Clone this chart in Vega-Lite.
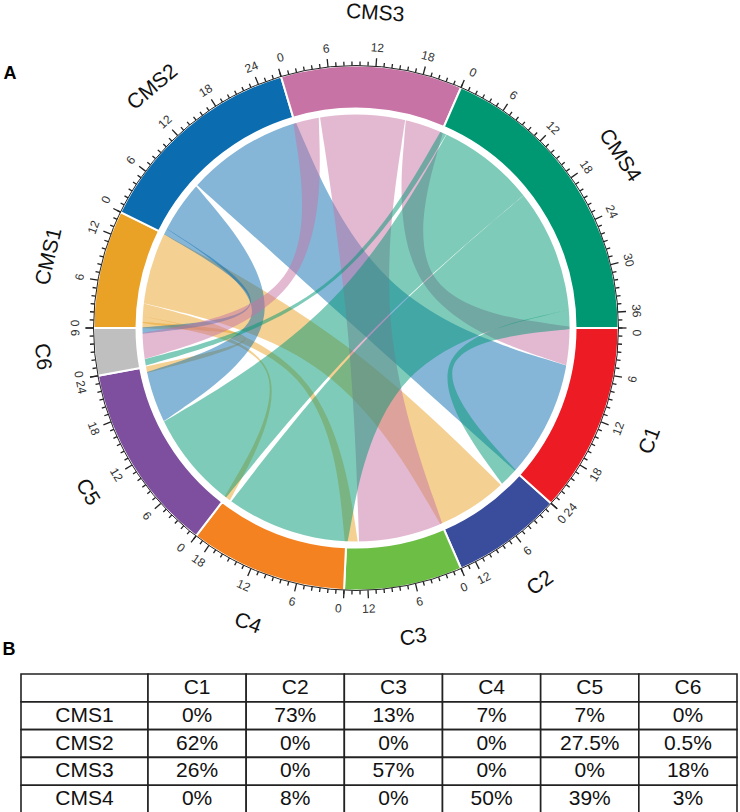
{
  "$schema": "https://vega.github.io/schema/vega-lite/v6.json",
  "padding": 0,
  "background": "white",
  "spacing": 20,
  "bounds": "flush",
  "config": {"view": {"stroke": null}, "font": "Liberation Sans"},
  "datasets": {
    "flows": [
      {"from": "CMS1", "to": "C2", "value": 11},
      {"from": "CMS1", "to": "C3", "value": 2},
      {"from": "CMS1", "to": "C4", "value": 1},
      {"from": "CMS1", "to": "C5", "value": 1},
      {"from": "CMS2", "to": "C1", "value": 18},
      {"from": "CMS2", "to": "C5", "value": 8},
      {"from": "CMS2", "to": "C6", "value": 1},
      {"from": "CMS3", "to": "C1", "value": 6},
      {"from": "CMS3", "to": "C3", "value": 13},
      {"from": "CMS3", "to": "C6", "value": 4},
      {"from": "CMS4", "to": "C2", "value": 3},
      {"from": "CMS4", "to": "C4", "value": 19},
      {"from": "CMS4", "to": "C5", "value": 15},
      {"from": "CMS4", "to": "C6", "value": 1}
    ],
    "cells": [
      {"row": "CMS1", "col": "C1", "pct": 0}, {"row": "CMS1", "col": "C2", "pct": 73}, {"row": "CMS1", "col": "C3", "pct": 13},
      {"row": "CMS1", "col": "C4", "pct": 7}, {"row": "CMS1", "col": "C5", "pct": 7}, {"row": "CMS1", "col": "C6", "pct": 0},
      {"row": "CMS2", "col": "C1", "pct": 62}, {"row": "CMS2", "col": "C2", "pct": 0}, {"row": "CMS2", "col": "C3", "pct": 0},
      {"row": "CMS2", "col": "C4", "pct": 0}, {"row": "CMS2", "col": "C5", "pct": 27.5}, {"row": "CMS2", "col": "C6", "pct": 0.5},
      {"row": "CMS3", "col": "C1", "pct": 26}, {"row": "CMS3", "col": "C2", "pct": 0}, {"row": "CMS3", "col": "C3", "pct": 57},
      {"row": "CMS3", "col": "C4", "pct": 0}, {"row": "CMS3", "col": "C5", "pct": 0}, {"row": "CMS3", "col": "C6", "pct": 18},
      {"row": "CMS4", "col": "C1", "pct": 0}, {"row": "CMS4", "col": "C2", "pct": 8}, {"row": "CMS4", "col": "C3", "pct": 0},
      {"row": "CMS4", "col": "C4", "pct": 50}, {"row": "CMS4", "col": "C5", "pct": 39}, {"row": "CMS4", "col": "C6", "pct": 3}
    ]
  },
  "vconcat": [
    {
      "width": 712,
      "height": 652,
      "layer": [
        {
          "data": {"name": "flows"},
          "transform": [
            {"joinaggregate": [{"op": "sum", "field": "value", "as": "tot"}]},
            {"window": [{"op": "sum", "field": "value", "as": "cEnd"}], "sort": [{"field": "to", "order": "ascending"}, {"field": "from", "order": "descending"}]},
            {"window": [{"op": "sum", "field": "value", "as": "mEnd"}], "sort": [{"field": "from", "order": "ascending"}, {"field": "to", "order": "descending"}]},
            {"calculate": "PI/2+(datum.cEnd-datum.value)*PI/datum.tot", "as": "a0"},
            {"calculate": "PI/2+datum.cEnd*PI/datum.tot", "as": "a1"},
            {"calculate": "PI/2+(datum.tot+datum.mEnd-datum.value)*PI/datum.tot", "as": "b0"},
            {"calculate": "PI/2+(datum.tot+datum.mEnd)*PI/datum.tot", "as": "b1"},
            {"fold": ["v10", "v11", "v12", "v13", "v14", "v15", "v16", "v17", "v18", "v19", "v20", "v21", "v22", "v23", "v24", "v25", "v26"], "as": ["vk", "vv"]},
            {"calculate": "toNumber(substring(datum.vk,1))-10", "as": "vi"},
            {"calculate": "datum.vi<=2||datum.vi>=14?datum.a0:(datum.vi<=5?datum.a1:(datum.vi<=9?datum.b0:datum.b1))", "as": "ang"},
            {"calculate": "datum.vi==6?224*(sin(datum.a1)+sin(datum.b0))/8:(datum.vi==13?224*(sin(datum.b1)+sin(datum.a0))/8:224*sin(datum.ang))", "as": "px"},
            {"calculate": "datum.vi==6?224*(cos(datum.a1)+cos(datum.b0))/8:(datum.vi==13?224*(cos(datum.b1)+cos(datum.a0))/8:224*cos(datum.ang))", "as": "py"}
          ],
          "mark": {"type": "line", "interpolate": "basis", "filled": true, "fillOpacity": 0.5, "strokeWidth": 0},
          "encoding": {
            "x": {"field": "px", "type": "quantitative", "scale": {"domain": [-356, 356], "nice": false, "zero": false}, "axis": null},
            "y": {"field": "py", "type": "quantitative", "scale": {"domain": [-326, 326], "nice": false, "zero": false}, "axis": null},
            "order": {"field": "vi", "type": "quantitative"},
            "detail": {"field": "to", "type": "nominal"},
            "color": {"field": "from", "type": "nominal", "legend": null,
              "scale": {"domain": ["C1", "C2", "C3", "C4", "C5", "C6", "CMS1", "CMS2", "CMS3", "CMS4"],
                        "range": ["#ED1C24", "#3A4D9C", "#6CBE45", "#F58220", "#7E4E9F", "#BFBFBF", "#E9A126", "#0B6DB0", "#C873A5", "#009873"]}}
          }
        },
        {
          "data": {"name": "flows"},
          "transform": [{"aggregate": [{"op": "count", "as": "n"}]}],
          "mark": {"type": "arc", "theta": 0, "theta2": 6.2832, "radius": 219.6, "radius2": 213.5, "fill": "white"}
        },
        {
          "data": {"name": "flows"},
          "transform": [
            {"fold": ["from", "to"], "as": ["side", "sector"]},
            {"aggregate": [{"op": "sum", "field": "value", "as": "total"}], "groupby": ["sector"]},
            {"window": [{"op": "sum", "field": "total", "as": "sEnd"}], "sort": [{"field": "sector", "order": "ascending"}]},
            {"joinaggregate": [{"op": "sum", "field": "total", "as": "grand"}]},
            {"calculate": "PI/2+(datum.sEnd-datum.total)*2*PI/datum.grand", "as": "t0"},
            {"calculate": "PI/2+datum.sEnd*2*PI/datum.grand", "as": "t1"}
          ],
          "mark": {"type": "arc", "radius": 262.5, "radius2": 219.5, "stroke": "white", "strokeWidth": 2},
          "encoding": {
            "theta": {"field": "t0", "type": "quantitative", "scale": null, "stack": null},
            "theta2": {"field": "t1"},
            "color": {"field": "sector", "type": "nominal", "legend": null,
              "scale": {"domain": ["C1", "C2", "C3", "C4", "C5", "C6", "CMS1", "CMS2", "CMS3", "CMS4"],
                        "range": ["#ED1C24", "#3A4D9C", "#6CBE45", "#F58220", "#7E4E9F", "#BFBFBF", "#E9A126", "#0B6DB0", "#C873A5", "#009873"]}}
          }
        },
        {
          "data": {"name": "flows"},
          "transform": [{"aggregate": [{"op": "count", "as": "n"}]}],
          "mark": {"type": "arc", "theta": 0, "theta2": 6.2832, "radius": 262.5, "radius2": 0, "filled": false, "stroke": "#222", "strokeWidth": 1}
        },
        {
          "data": {"name": "flows"},
          "transform": [
            {"fold": ["from", "to"], "as": ["side", "sector"]},
            {"aggregate": [{"op": "sum", "field": "value", "as": "total"}], "groupby": ["sector"]},
            {"window": [{"op": "sum", "field": "total", "as": "sEnd"}], "sort": [{"field": "sector", "order": "ascending"}]},
            {"joinaggregate": [{"op": "sum", "field": "total", "as": "grand"}]},
            {"calculate": "0", "as": "k"},
            {"impute": "total", "key": "k", "keyvals": [0,1,2,3,4,5,6,7,8,9,10,11,12,13,14,15,16,17,18,19,20,21,22,23,24,25,26,27,28,29,30,31,32,33,34,35,36,37,38], "groupby": ["sector"], "value": -1},
            {"joinaggregate": [{"op": "max", "field": "total", "as": "tmax"}, {"op": "max", "field": "sEnd", "as": "se"}, {"op": "max", "field": "grand", "as": "gr"}], "groupby": ["sector"]},
            {"filter": "datum.k <= datum.tmax"},
            {"calculate": "PI/2+(datum.se-datum.tmax+datum.k)*2*PI/datum.gr", "as": "th"},
            {"calculate": "262.5*sin(datum.th)", "as": "x1"},
            {"calculate": "262.5*cos(datum.th)", "as": "y1"},
            {"calculate": "datum.k%6==0?270.5:266.5", "as": "rr"},
            {"calculate": "datum.rr*sin(datum.th)", "as": "x2"},
            {"calculate": "datum.rr*cos(datum.th)", "as": "y2"}
          ],
          "mark": {"type": "rule", "color": "#222", "strokeWidth": 1.3},
          "encoding": {
            "x": {"field": "x1", "type": "quantitative", "scale": {"domain": [-356, 356], "nice": false, "zero": false}, "axis": null},
            "y": {"field": "y1", "type": "quantitative", "scale": {"domain": [-326, 326], "nice": false, "zero": false}, "axis": null},
            "x2": {"field": "x2"},
            "y2": {"field": "y2"}
          }
        },
        {
          "data": {"name": "flows"},
          "transform": [
            {"fold": ["from", "to"], "as": ["side", "sector"]},
            {"aggregate": [{"op": "sum", "field": "value", "as": "total"}], "groupby": ["sector"]},
            {"window": [{"op": "sum", "field": "total", "as": "sEnd"}], "sort": [{"field": "sector", "order": "ascending"}]},
            {"joinaggregate": [{"op": "sum", "field": "total", "as": "grand"}]},
            {"calculate": "0", "as": "k"},
            {"impute": "total", "key": "k", "keyvals": [0,6,12,18,24,30,36], "groupby": ["sector"], "value": -1},
            {"joinaggregate": [{"op": "max", "field": "total", "as": "tmax"}, {"op": "max", "field": "sEnd", "as": "se"}, {"op": "max", "field": "grand", "as": "gr"}], "groupby": ["sector"]},
            {"filter": "datum.k <= datum.tmax"},
            {"calculate": "PI/2+(datum.se-datum.tmax+datum.k)*2*PI/datum.gr", "as": "th"},
            {"calculate": "toString(datum.k)", "as": "lab"},
            {"calculate": "(length(datum.lab)*3.3+1.5)/281", "as": "hw"},
            {"calculate": "datum.k==0?datum.th+datum.hw:(datum.k==datum.tmax?datum.th-datum.hw:datum.th)", "as": "tl"},
            {"calculate": "281*sin(datum.tl)", "as": "lx"},
            {"calculate": "281*cos(datum.tl)", "as": "ly"},
            {"calculate": "datum.tl*180/PI", "as": "deg"},
            {"calculate": "datum.deg<270?datum.deg-180:datum.deg-360", "as": "rot"}
          ],
          "mark": {"type": "text", "fontSize": 12, "baseline": "middle", "align": "center", "color": "#333"},
          "encoding": {
            "x": {"field": "lx", "type": "quantitative", "scale": {"domain": [-356, 356], "nice": false, "zero": false}, "axis": null},
            "y": {"field": "ly", "type": "quantitative", "scale": {"domain": [-326, 326], "nice": false, "zero": false}, "axis": null},
            "angle": {"field": "rot", "type": "quantitative", "scale": null},
            "text": {"field": "lab"}
          }
        },
        {
          "data": {"name": "flows"},
          "transform": [
            {"fold": ["from", "to"], "as": ["side", "sector"]},
            {"aggregate": [{"op": "sum", "field": "value", "as": "total"}], "groupby": ["sector"]},
            {"window": [{"op": "sum", "field": "total", "as": "sEnd"}], "sort": [{"field": "sector", "order": "ascending"}]},
            {"joinaggregate": [{"op": "sum", "field": "total", "as": "grand"}]},
            {"calculate": "PI/2+(datum.sEnd-datum.total/2)*2*PI/datum.grand", "as": "mid"},
            {"calculate": "315*sin(datum.mid)", "as": "lx"},
            {"calculate": "315*cos(datum.mid)", "as": "ly"},
            {"calculate": "datum.mid*180/PI", "as": "deg"},
            {"calculate": "datum.deg<270?datum.deg-180:datum.deg-360", "as": "rot"}
          ],
          "mark": {"type": "text", "fontSize": 21, "baseline": "middle", "align": "center", "color": "#111"},
          "encoding": {
            "x": {"field": "lx", "type": "quantitative", "scale": {"domain": [-356, 356], "nice": false, "zero": false}, "axis": null},
            "y": {"field": "ly", "type": "quantitative", "scale": {"domain": [-326, 326], "nice": false, "zero": false}, "axis": null},
            "angle": {"field": "rot", "type": "quantitative", "scale": null},
            "text": {"field": "sector"}
          }
        },
        {
          "data": {"name": "flows"},
          "transform": [{"aggregate": [{"op": "count", "as": "n"}]}],
          "mark": {"type": "text", "fontSize": 18, "fontWeight": "bold", "baseline": "middle", "align": "center", "color": "#000"},
          "encoding": {
            "x": {"datum": -346, "type": "quantitative", "scale": {"domain": [-356, 356], "nice": false, "zero": false}, "axis": null},
            "y": {"datum": 254, "type": "quantitative", "scale": {"domain": [-326, 326], "nice": false, "zero": false}, "axis": null},
            "text": {"value": "A"}
          }
        },
        {
          "data": {"name": "flows"},
          "transform": [{"aggregate": [{"op": "count", "as": "n"}]}],
          "mark": {"type": "text", "fontSize": 18, "fontWeight": "bold", "baseline": "middle", "align": "center", "color": "#000"},
          "encoding": {
            "x": {"datum": -347, "type": "quantitative", "scale": {"domain": [-356, 356], "nice": false, "zero": false}, "axis": null},
            "y": {"datum": -322, "type": "quantitative", "scale": {"domain": [-326, 326], "nice": false, "zero": false}, "axis": null},
            "text": {"value": "B"}
          }
        }
      ]
    },
    {
      "spacing": 0,
      "bounds": "flush",
      "hconcat": [
        {
          "width": 148,
          "height": 139,
          "layer": [
            {
              "data": {"name": "cells"},
              "transform": [{"aggregate": [{"op": "count", "as": "n"}], "groupby": ["row"]}],
              "mark": {"type": "rect", "fill": "white", "stroke": "#222", "strokeWidth": 1.6},
              "encoding": {
                "x": {"datum": "h", "type": "nominal", "scale": {"type": "band", "domain": ["h"], "paddingInner": 0, "paddingOuter": 0.08268, "align": 1}, "axis": null},
                "y": {"field": "row", "type": "nominal", "scale": {"type": "band", "domain": ["hdr", "CMS1", "CMS2", "CMS3", "CMS4"], "paddingInner": 0, "paddingOuter": 0}, "axis": null}
              }
            },
            {
              "data": {"name": "cells"},
              "transform": [{"aggregate": [{"op": "count", "as": "n"}]}],
              "mark": {"type": "rect", "fill": "white", "stroke": "#222", "strokeWidth": 1.6},
              "encoding": {
                "x": {"datum": "h", "type": "nominal", "scale": {"type": "band", "domain": ["h"], "paddingInner": 0, "paddingOuter": 0.08268, "align": 1}, "axis": null},
                "y": {"datum": "hdr", "type": "nominal", "scale": {"type": "band", "domain": ["hdr", "CMS1", "CMS2", "CMS3", "CMS4"], "paddingInner": 0, "paddingOuter": 0}, "axis": null}
              }
            },
            {
              "data": {"name": "cells"},
              "transform": [{"aggregate": [{"op": "count", "as": "n"}], "groupby": ["row"]}],
              "mark": {"type": "text", "fontSize": 21, "baseline": "middle", "align": "center", "color": "#111"},
              "encoding": {
                "x": {"datum": "h", "type": "nominal", "scale": {"type": "band", "domain": ["h"], "paddingInner": 0, "paddingOuter": 0.08268, "align": 1}, "axis": null},
                "y": {"field": "row", "type": "nominal", "scale": {"type": "band", "domain": ["hdr", "CMS1", "CMS2", "CMS3", "CMS4"], "paddingInner": 0, "paddingOuter": 0}, "axis": null},
                "text": {"field": "row"}
              }
            }
          ]
        },
        {
          "width": 589,
          "height": 139,
          "layer": [
            {
              "data": {"name": "cells"},
              "mark": {"type": "rect", "fill": "white", "stroke": "#222", "strokeWidth": 1.6},
              "encoding": {
                "x": {"field": "col", "type": "nominal", "scale": {"type": "band", "domain": ["C1", "C2", "C3", "C4", "C5", "C6"], "paddingInner": 0, "paddingOuter": 0}, "axis": null},
                "y": {"field": "row", "type": "nominal", "scale": {"type": "band", "domain": ["hdr", "CMS1", "CMS2", "CMS3", "CMS4"], "paddingInner": 0, "paddingOuter": 0}, "axis": null}
              }
            },
            {
              "data": {"name": "cells"},
              "transform": [{"aggregate": [{"op": "count", "as": "n"}], "groupby": ["col"]}],
              "mark": {"type": "rect", "fill": "white", "stroke": "#222", "strokeWidth": 1.6},
              "encoding": {
                "x": {"field": "col", "type": "nominal", "scale": {"type": "band", "domain": ["C1", "C2", "C3", "C4", "C5", "C6"], "paddingInner": 0, "paddingOuter": 0}, "axis": null},
                "y": {"datum": "hdr", "type": "nominal", "scale": {"type": "band", "domain": ["hdr", "CMS1", "CMS2", "CMS3", "CMS4"], "paddingInner": 0, "paddingOuter": 0}, "axis": null}
              }
            },
            {
              "data": {"name": "cells"},
              "transform": [{"calculate": "datum.pct + '%'", "as": "lab"}],
              "mark": {"type": "text", "fontSize": 21, "baseline": "middle", "align": "center", "color": "#111"},
              "encoding": {
                "x": {"field": "col", "type": "nominal", "scale": {"type": "band", "domain": ["C1", "C2", "C3", "C4", "C5", "C6"], "paddingInner": 0, "paddingOuter": 0}, "axis": null},
                "y": {"field": "row", "type": "nominal", "scale": {"type": "band", "domain": ["hdr", "CMS1", "CMS2", "CMS3", "CMS4"], "paddingInner": 0, "paddingOuter": 0}, "axis": null},
                "text": {"field": "lab"}
              }
            },
            {
              "data": {"name": "cells"},
              "transform": [{"aggregate": [{"op": "count", "as": "n"}], "groupby": ["col"]}],
              "mark": {"type": "text", "fontSize": 21, "baseline": "middle", "align": "center", "color": "#111"},
              "encoding": {
                "x": {"field": "col", "type": "nominal", "scale": {"type": "band", "domain": ["C1", "C2", "C3", "C4", "C5", "C6"], "paddingInner": 0, "paddingOuter": 0}, "axis": null},
                "y": {"datum": "hdr", "type": "nominal", "scale": {"type": "band", "domain": ["hdr", "CMS1", "CMS2", "CMS3", "CMS4"], "paddingInner": 0, "paddingOuter": 0}, "axis": null},
                "text": {"field": "col"}
              }
            }
          ]
        }
      ]
    }
  ]
}
